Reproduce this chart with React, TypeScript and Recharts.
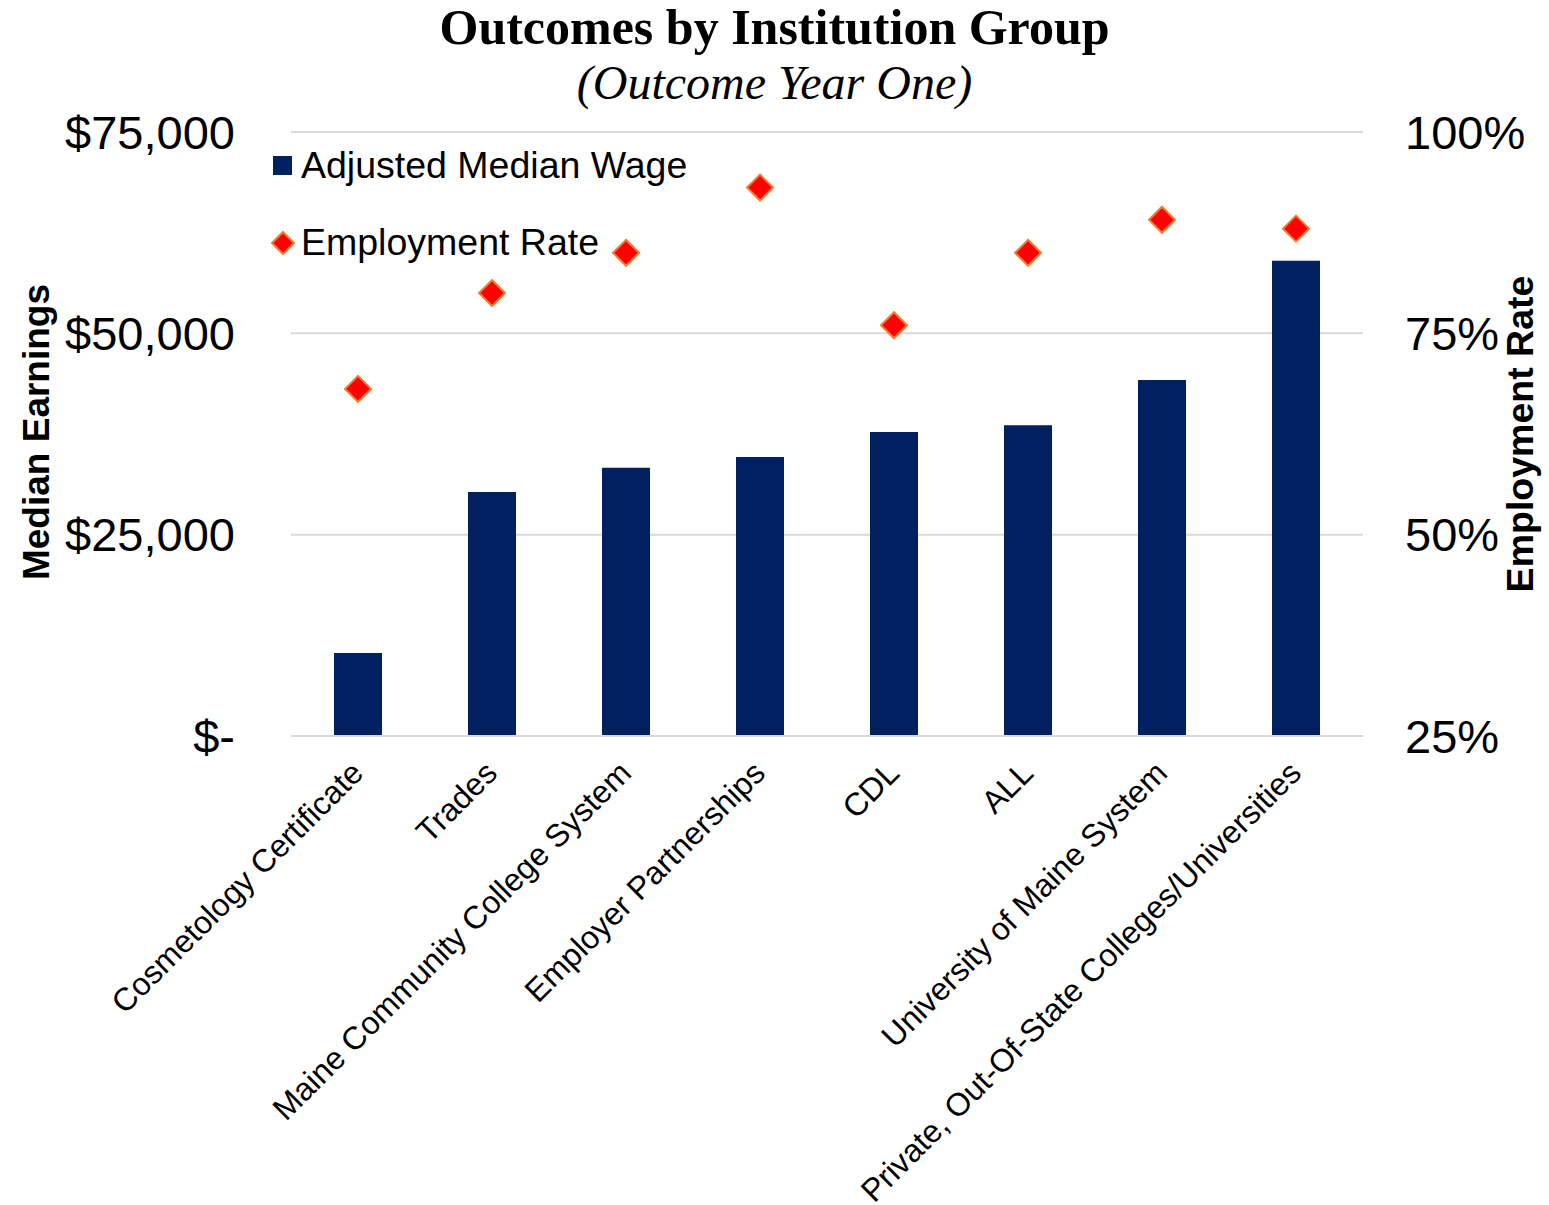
import { ComposedChart, Bar, Line, XAxis, YAxis, CartesianGrid, Legend } from "recharts";

const categories = [
  "Cosmetology Certificate",
  "Trades",
  "Maine Community College System",
  "Employer Partnerships",
  "CDL",
  "ALL",
  "University of Maine System",
  "Private, Out-Of-State Colleges/Universities",
];
const medianWage = [10300, 30300, 33300, 34650, 37750, 38600, 44200, 59000];
const employmentRate = [0.681, 0.8, 0.85, 0.931, 0.76, 0.85, 0.891, 0.88];
const wageTicks = [0, 25000, 50000, 75000];
const rateTicks = [0.25, 0.5, 0.75, 1];

const data = categories.map((name, i) => ({
  name,
  wage: medianWage[i],
  rate: employmentRate[i],
}));

const FONT = '"Liberation Sans", Arial, sans-serif';
const SERIF = '"Liberation Serif", "Times New Roman", serif';
const NAVY = "#002060";
const RED = "#FF0000";
const ORANGE = "#F47C30";

const fmtWage = (v: number) => (v === 0 ? "$-" : `$${v.toLocaleString("en-US")}`);
const fmtRate = (v: number) => `${Math.round(v * 100)}%`;

function Diamond(props: any) {
  const { cx, cy } = props;
  if (cx == null || cy == null) return null;
  const r = 13;
  return (
    <polygon
      points={`${cx},${cy - r} ${cx + r},${cy} ${cx},${cy + r} ${cx - r},${cy}`}
      fill={RED}
      stroke={ORANGE}
      strokeWidth={2}
    />
  );
}

function CategoryTick(props: any) {
  const { x, y, payload } = props;
  const tx = x + 7;
  const ty = y + 39;
  return (
    <text
      x={tx}
      y={ty}
      transform={`rotate(-45, ${tx}, ${ty})`}
      textAnchor="end"
      fontSize={32}
      fontFamily={FONT}
      fill="#000"
    >
      {payload.value}
    </text>
  );
}

function LegendContent(props: any) {
  const items = props.payload || [];
  return (
    <div style={{ fontFamily: FONT, fontSize: 37.5, color: "#000" }}>
      {items.map((item: any) => (
        <div key={item.value} style={{ display: "flex", alignItems: "center", height: 77 }}>
          <svg width={28} height={28} style={{ marginRight: 4 }}>
            {item.type === "diamond" ? (
              <polygon points="14,3 25,14 14,25 3,14" fill={RED} stroke={ORANGE} strokeWidth={2} />
            ) : (
              <rect x={4} y={4} width={19} height={19} fill={NAVY} />
            )}
          </svg>
          <span>{item.value}</span>
        </div>
      ))}
    </div>
  );
}

export default function App() {
  return (
    <div style={{ position: "absolute", left: 0, top: 0, width: 1549, height: 1205, background: "#fff" }}>
      <div
        style={{
          position: "absolute",
          left: 0,
          top: 2,
          width: 1549,
          textAlign: "center",
          fontFamily: SERIF,
          fontWeight: "bold",
          fontSize: 50,
          lineHeight: "50px",
          color: "#000",
        }}
      >
        Outcomes by Institution Group
      </div>
      <div
        style={{
          position: "absolute",
          left: 0,
          top: 59,
          width: 1549,
          textAlign: "center",
          fontFamily: SERIF,
          fontStyle: "italic",
          fontSize: 48,
          lineHeight: "48px",
          color: "#000",
        }}
      >
        (Outcome Year One)
      </div>
      <div
        style={{
          position: "absolute",
          left: 36,
          top: 432,
          transform: "translate(-50%, -50%) rotate(-90deg)",
          whiteSpace: "nowrap",
          fontFamily: FONT,
          fontWeight: "bold",
          fontSize: 37,
          lineHeight: "37px",
          color: "#000",
        }}
      >
        Median Earnings
      </div>
      <div
        style={{
          position: "absolute",
          left: 1520,
          top: 434,
          transform: "translate(-50%, -50%) rotate(-90deg)",
          whiteSpace: "nowrap",
          fontFamily: FONT,
          fontWeight: "bold",
          fontSize: 37.5,
          lineHeight: "37px",
          color: "#000",
        }}
      >
        Employment Rate
      </div>
      <ComposedChart
        width={1549}
        height={1205}
        data={data}
        margin={{ top: 132, left: 91, right: 36, bottom: 69 }}
        barCategoryGap={0}
      >
        <CartesianGrid yAxisId="left" vertical={false} stroke="#D9D9D9" strokeWidth={2} />
        <XAxis
          dataKey="name"
          interval={0}
          height={400}
          tickLine={false}
          tickSize={0}
          tickMargin={0}
          axisLine={{ stroke: "#D9D9D9", strokeWidth: 2 }}
          tick={<CategoryTick />}
        />
        <YAxis
          yAxisId="left"
          width={200}
          domain={[0, 75000]}
          ticks={wageTicks}
          tickFormatter={fmtWage}
          axisLine={false}
          tickLine={false}
          tickSize={0}
          tickMargin={56}
          tick={{ fontSize: 47, fill: "#000", fontFamily: FONT }}
        />
        <YAxis
          yAxisId="right"
          orientation="right"
          width={150}
          domain={[0.25, 1]}
          ticks={rateTicks}
          tickFormatter={fmtRate}
          axisLine={false}
          tickLine={false}
          tickSize={0}
          tickMargin={42}
          tick={{ fontSize: 47, fill: "#000", fontFamily: FONT }}
        />
        <Legend
          layout="vertical"
          align="center"
          verticalAlign="middle"
          wrapperStyle={{ top: 127, left: 269, width: 480 }}
          content={<LegendContent />}
        />
        <Bar
          yAxisId="left"
          dataKey="wage"
          name="Adjusted Median Wage"
          fill={NAVY}
          barSize={48}
          legendType="square"
          isAnimationActive={false}
        />
        <Line
          yAxisId="right"
          dataKey="rate"
          name="Employment Rate"
          stroke="none"
          legendType="diamond"
          dot={<Diamond />}
          activeDot={false}
          isAnimationActive={false}
        />
      </ComposedChart>
    </div>
  );
}
